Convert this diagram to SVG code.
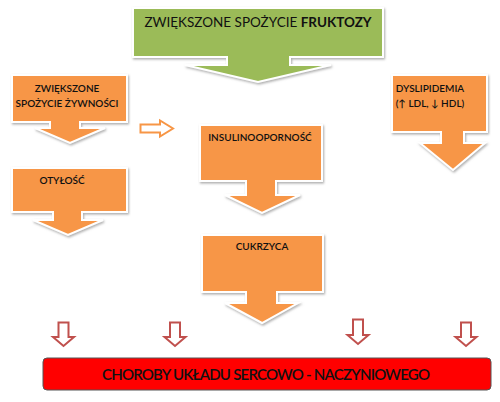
<svg xmlns="http://www.w3.org/2000/svg" width="500" height="402" viewBox="0 0 500 402">
<style>
.co{stroke:#ffffff;stroke-width:2;stroke-linejoin:miter;filter:url(#sh)}
.g{fill:#9bbb59}
.o{fill:#f79646}
.t{font-family:Lato,"Open Sans",sans-serif;fill:#111111;text-anchor:middle}
.s{font-size:10px;font-weight:600}
.ra{fill:#ffffff;stroke:#c0504d;stroke-width:2;stroke-linejoin:miter}
</style>
<defs>
<filter id="sh" x="-10%" y="-10%" width="120%" height="130%">
<feDropShadow dx="1" dy="1.5" stdDeviation="1" flood-color="#8a8a8a" flood-opacity="0.7"/>
</filter>
</defs>
<rect width="500" height="402" fill="#ffffff"/>
<g id="fruktoza">
<path class="co g" d="M133,8 H383 V57 H290 V65 H331 L258,82 L185,65 H227 V57 H133 Z"/>
<text class="t" x="258" y="27" font-size="13.5">ZWIĘKSZONE SPOŻYCIE <tspan font-weight="bold">FRUKTOZY</tspan></text>
</g>
<g id="zywnosc">
<path class="co o" d="M12,75 H127 V122 H80 V128 H105 L70,143 L35,128 H50 V122 H12 Z"/>
<text class="t s" x="67" y="92">ZWIĘKSZONE</text>
<text class="t s" x="67" y="107">SPOŻYCIE ŻYWNOŚCI</text>
</g>
<g id="otylosc">
<path class="co o" d="M12,168 H127 V212 H82 V220 H103 L68,235 L33,220 H53 V212 H12 Z"/>
<text class="t s" x="62" y="184">OTYŁOŚĆ</text>
</g>
<g id="insulinoopornosc">
<path class="co o" d="M200,125 H322 V181 H276 V195 H300 L262,213 L225,195 H246 V181 H200 Z"/>
<text class="t s" x="260" y="141">INSULINOOPORNOŚĆ</text>
</g>
<g id="cukrzyca">
<path class="co o" d="M202,235 H323 V292 H277 V303 H298 L262,323 L225,303 H246 V292 H202 Z"/>
<text class="t s" x="262" y="250">CUKRZYCA</text>
</g>
<g id="dyslipidemia">
<path class="co o" d="M392,75 H487 V132 H464 V143 H485 L453,170 L420,143 H441 V132 H392 Z"/>
<text class="t s" x="430" y="92">DYSLIPIDEMIA</text>
<text class="t s" x="430" y="107">(↑ LDL, ↓ HDL)</text>
</g>
<g id="connectors">
<path d="M140.5,124.5 H160 V120.5 L173,128.5 L160,136.5 V132.5 H140.5 Z" fill="#ffffff" stroke="#f79646" stroke-width="2"/>
<path class="ra" d="M58.5,322.5 H68.5 V337 H74 L63.5,346 L53,337 H58.5 Z"/>
<path class="ra" d="M170,322.5 H180 V337 H185.5 L175,346 L164.5,337 H170 Z"/>
<path class="ra" d="M353,319.5 H363 V335 H368.5 L358,344 L347.5,335 H353 Z"/>
<path class="ra" d="M461,322.5 H471 V337 H476.5 L466,346 L455.5,337 H461 Z"/>
</g>
<g id="choroby">
<rect x="43" y="358" width="448" height="32" rx="4" fill="#ff0000" stroke="#555555" stroke-width="1"/>
<text class="t" x="266" y="379.5" font-size="15" font-weight="600" textLength="328" lengthAdjust="spacing">CHOROBY UKŁADU SERCOWO - NACZYNIOWEGO</text>
</g>
</svg>
